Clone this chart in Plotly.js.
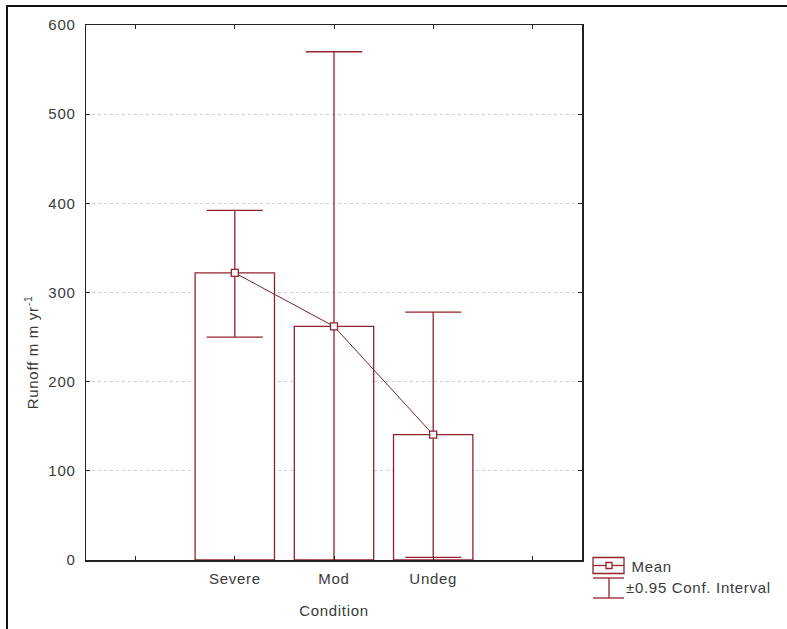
<!DOCTYPE html>
<html>
<head>
<meta charset="utf-8">
<script src="https://cdn.plot.ly/plotly-3.0.1.min.js"></script>
<style>
html,body{margin:0;padding:0;background:#fff;}
#chart{width:787px;height:629px;}
#chart svg text{letter-spacing:0.7px;}
</style>
</head>
<body>
<div id="chart"></div>
<script>
// ---- data ----
const categories = ['Severe', 'Mod', 'Undeg'];
const meanRunoff = [322, 262, 140.5];
const ciUpper = [392, 570, 278];
const ciLower = [250, -46, 3];
const legendLabels = ['Mean', '±0.95 Conf. Interval'];

// ---- styling ----
const RED = 'rgb(145,35,45)';
const FONT = 'Liberation Sans, Arial, sans-serif';
const TXT = '#3a3a3a';
const xPos = categories.map((c, i) => i + 1);

// plot area in pixels (for paper-coordinate decorations)
const L = 86, T = 25, R = 582, B = 560;
const px = x => (x - L) / (R - L);
const py = y => (B - y) / (B - T);

const bars = {
  type: 'bar', x: xPos, y: meanRunoff, width: 0.8,
  marker: {color: 'white', line: {color: RED, width: 1.3}},
  showlegend: false, hoverinfo: 'skip'
};
const meanLine = {
  type: 'scatter', mode: 'lines+markers', x: xPos, y: meanRunoff,
  line: {color: 'rgb(110,40,45)', width: 1},
  marker: {symbol: 'square', size: 7, color: 'white', line: {color: RED, width: 1.3}},
  error_y: {
    type: 'data', symmetric: false,
    array: ciUpper.map((u, i) => u - meanRunoff[i]),
    arrayminus: ciLower.map((l, i) => meanRunoff[i] - l),
    color: RED, thickness: 1.3, width: 28
  },
  showlegend: false
};

const shapes = [
  // outer frame (left and top)
  {type: 'line', xref: 'paper', yref: 'paper', x0: px(7), x1: px(7), y0: py(5), y1: py(640), line: {color: '#111', width: 2}},
  {type: 'line', xref: 'paper', yref: 'paper', x0: px(6), x1: px(800), y0: py(6), y1: py(6), line: {color: '#111', width: 2}},
  // legend: mean symbol
  {type: 'rect', xref: 'paper', yref: 'paper', x0: px(593), x1: px(624), y0: py(557.5), y1: py(573.5), line: {color: RED, width: 1.3}, fillcolor: 'white'},
  {type: 'line', xref: 'paper', yref: 'paper', x0: px(593), x1: px(624), y0: py(565.5), y1: py(565.5), line: {color: RED, width: 1.3}},
  {type: 'rect', xref: 'paper', yref: 'paper', x0: px(606), x1: px(612), y0: py(562.5), y1: py(568.5), line: {color: RED, width: 1.3}, fillcolor: 'white'},
  // legend: CI symbol
  {type: 'line', xref: 'paper', yref: 'paper', x0: px(593), x1: px(624), y0: py(578), y1: py(578), line: {color: RED, width: 1.3}},
  {type: 'line', xref: 'paper', yref: 'paper', x0: px(609), x1: px(609), y0: py(578), y1: py(598), line: {color: RED, width: 1.3}},
  {type: 'line', xref: 'paper', yref: 'paper', x0: px(593), x1: px(624), y0: py(598), y1: py(598), line: {color: RED, width: 1.3}}
];

const annotations = [
  {xref: 'paper', yref: 'paper', x: px(31), y: py(353), text: 'Runoff m m yr<sup>-1</sup>', textangle: -90,
   showarrow: false, xanchor: 'center', yanchor: 'middle', font: {family: FONT, size: 15, color: TXT}},
  {xref: 'paper', yref: 'paper', x: px(631), y: py(566), text: legendLabels[0], showarrow: false,
   xanchor: 'left', yanchor: 'middle', font: {family: FONT, size: 15, color: TXT}},
  {xref: 'paper', yref: 'paper', x: px(631), y: py(587), text: legendLabels[1], showarrow: false,
   xanchor: 'left', yanchor: 'middle', font: {family: FONT, size: 15, color: TXT}}
];

const layout = {
  width: 787, height: 629,
  margin: {l: L, r: 787 - R, t: T, b: 629 - B, pad: 0},
  paper_bgcolor: 'white', plot_bgcolor: 'white',
  showlegend: false,
  font: {family: FONT, size: 15, color: TXT},
  xaxis: {
    range: [-0.5, 4.5], tickmode: 'array', tickvals: xPos, ticktext: categories,
    ticks: 'inside', ticklen: 4, tickcolor: '#222', mirror: 'ticks',
    minor: {tickmode: 'linear', tick0: 0, dtick: 1, ticks: 'inside', ticklen: 4, tickcolor: '#222', showgrid: false},
    showline: true, linecolor: '#222', linewidth: 1.5, showgrid: false, zeroline: false,
    tickfont: {family: FONT, size: 15, color: TXT}, ticklabelstandoff: 4,
    title: {text: 'Condition', font: {family: FONT, size: 15, color: TXT}, standoff: 20}
  },
  yaxis: {
    range: [0, 600], dtick: 100, tick0: 0,
    ticks: 'inside', ticklen: 4, tickcolor: '#222', mirror: 'ticks',
    showline: true, linecolor: '#222', linewidth: 1.5,
    showgrid: true, gridcolor: '#cfcfcf', griddash: 'dot', gridwidth: 1, zeroline: false,
    tickfont: {family: FONT, size: 15, color: TXT}, ticklabelstandoff: 6
  },
  shapes: shapes,
  annotations: annotations,
  bargap: 0
};

Plotly.newPlot('chart', [bars, meanLine], layout, {staticPlot: true, displayModeBar: false}).then(gd => {
  // drop empty placeholder text nodes Plotly leaves behind
  gd.querySelectorAll('svg text').forEach(t => { if (!t.textContent.trim()) t.remove(); });
});
</script>
</body>
</html>
